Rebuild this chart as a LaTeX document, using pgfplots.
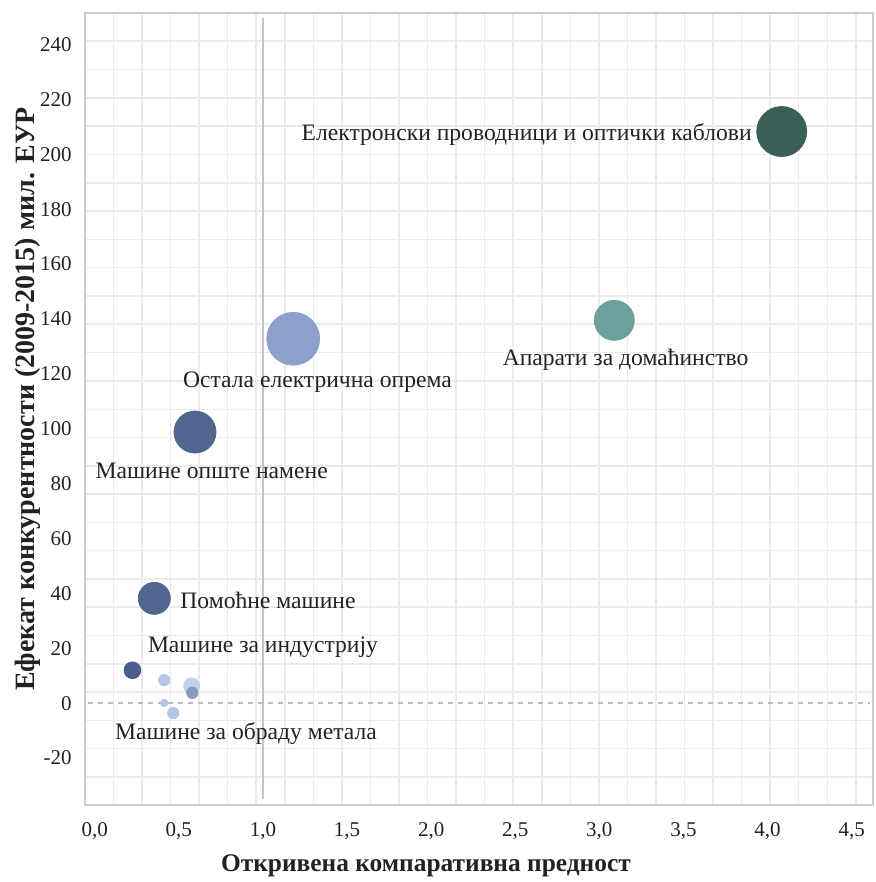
\documentclass[border=0pt]{standalone}
\usepackage{fontspec}
\setmainfont{Liberation Serif}
\usepackage{pgfplots}
\pgfplotsset{compat=1.18}
\definecolor{gridc}{HTML}{EBEBEB}
\definecolor{axisc}{HTML}{CCCCCC}
\definecolor{vlinec}{HTML}{C4C4C4}
\definecolor{zeroc}{HTML}{BBBBBB}
\definecolor{txtc}{HTML}{222222}
\definecolor{c1}{HTML}{3B5F58}
\definecolor{c2}{HTML}{6BA19A}
\definecolor{c3}{HTML}{8CA0CB}
\definecolor{c4}{HTML}{50668F}
\definecolor{c5}{HTML}{4A5E8C}
\definecolor{c6}{HTML}{B7C5E4}
\definecolor{c7}{HTML}{C3CEE8}
\definecolor{c8}{HTML}{8899C5}
\begin{document}
\begin{tikzpicture}
\begin{axis}[
  scale only axis, width=394pt, height=396pt,
  xmin=-0.058, xmax=4.627, ymin=-37.1, ymax=251.5,
  xtick={0,0.5,1,1.5,2,2.5,3,3.5,4,4.5},
  xticklabels={{0,0},{0,5},{1,0},{1,5},{2,0},{2,5},{3,0},{3,5},{4,0},{4,5}},
  ytick={-20,0,20,40,60,80,100,120,140,160,180,200,220,240},
  minor xtick={0.112,0.281,0.451,0.621,0.790,0.960,1.130,1.300,1.469,1.639,1.809,1.979,2.148,2.318,2.488,2.658,2.827,2.997,3.167,3.337,3.506,3.676,3.846,4.015,4.185,4.355,4.525},
  minor ytick={241.2,230.9,220.6,210.3,199.9,189.6,179.3,169.0,158.7,148.4,138.1,127.8,117.4,107.1,96.8,86.5,76.2,65.9,55.6,45.3,35.0,24.6,14.3,4.0,-6.3,-16.6,-26.9},
  grid=minor,
  minor grid style={draw=gridc, line width=0.75pt},
  major tick length=0pt, minor tick length=0pt,
  tick style={draw=none},
  axis line style={draw=axisc, line width=1pt},
  /pgf/number format/assume math mode=true,
  tick label style={font=\fontsize{10.5}{12}\selectfont, text=txtc},
  yticklabel style={inner sep=0pt, xshift=-6.5pt},
  xticklabel style={inner sep=0pt, yshift=-8.5pt},
  xlabel={Откривена компаративна предност},
  ylabel={Ефекат конкурентности (2009-2015) мил. ЕУР},
  every axis x label/.style={at={(axis description cs:0.4327,-0.077)}, anchor=center, font=\bfseries\fontsize{12.7}{15}\selectfont, text=txtc},
  every axis y label/.style={at={(axis description cs:-0.0723,0.5126)}, anchor=center, rotate=90, font=\bfseries\fontsize{14}{16}\selectfont, text=txtc},
  clip=false,
]
% reference lines
\addplot[draw=vlinec, line width=1pt] coordinates {(1,249.8) (1,-35)};
\addplot[draw=zeroc, line width=0.75pt, dash pattern=on 2.5pt off 2.5pt] coordinates {(-0.04,0) (4.61,0)};
% bubbles
\addplot[only marks, mark=*, mark size=12.5pt, color=c1] coordinates {(4.084,208.3)};
\addplot[only marks, mark=*, mark size=10pt, color=c2] coordinates {(3.089,139.5)};
\addplot[only marks, mark=*, mark size=13.2pt, color=c3] coordinates {(1.180,132.8)};
\addplot[only marks, mark=*, mark size=10.5pt, color=c4] coordinates {(0.596,98.8)};
\addplot[only marks, mark=*, mark size=8pt, color=c4] coordinates {(0.354,38.2)};
\addplot[only marks, mark=*, mark size=4.2pt, color=c5] coordinates {(0.224,12.0)};
\addplot[only marks, mark=*, mark size=2.85pt, color=c6] coordinates {(0.413,8.4)};
\addplot[only marks, mark=*, mark size=4pt, color=c7] coordinates {(0.576,6.3)};
\addplot[only marks, mark=*, mark size=2.85pt, color=c8] coordinates {(0.580,3.75)};
\addplot[only marks, mark=*, mark size=1.85pt, color=c6] coordinates {(0.413,0.1)};
\addplot[only marks, mark=*, mark size=2.85pt, color=c6] coordinates {(0.467,-3.6)};
% labels
\begin{scope}[every node/.style={font=\fontsize{11.8}{14}\selectfont, text=txtc, inner sep=0pt}]
\node[anchor=base east] at (axis cs:3.908,205.1) {Електронски проводници и оптички каблови};
\node[anchor=base] at (axis cs:3.156,123.1) {Апарати за домаћинство};
\node[anchor=base] at (axis cs:1.324,115.1) {Остала електрична опрема};
\node[anchor=base] at (axis cs:0.695,81.9) {Машине опште намене};
\node[anchor=base west] at (axis cs:0.507,34.5) {Помоћне машине};
\node[anchor=base] at (axis cs:1.000,18.5) {Машине за индустрију};
\node[anchor=base] at (axis cs:0.899,-13.1) {Машине за обраду метала};
\end{scope}
\end{axis}
\pgfresetboundingbox
\path ([shift={(-42.5pt,-38.5pt)}]current axis.south west) rectangle ([shift={(1pt,6.5pt)}]current axis.north east);
\end{tikzpicture}
\end{document}
